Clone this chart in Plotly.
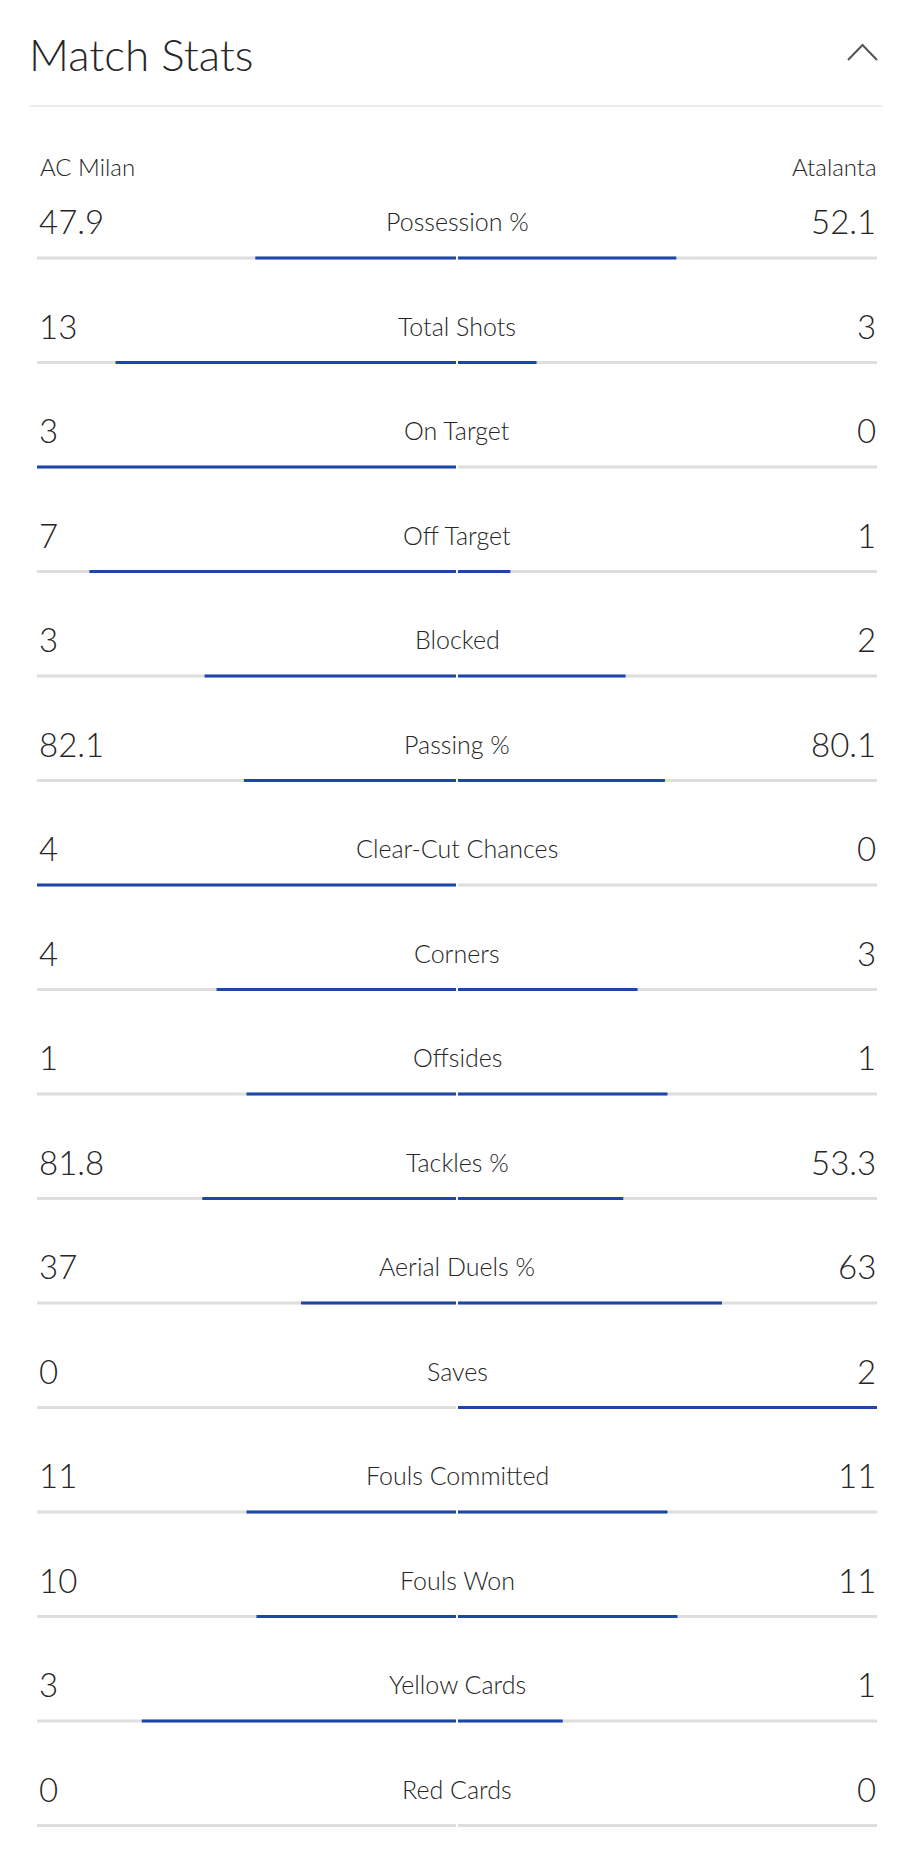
import plotly.graph_objects as go

# 比赛数据
stat_names = ["Possession %", "Total Shots", "On Target", "Off Target", "Blocked",
              "Passing %", "Clear-Cut Chances", "Corners", "Offsides", "Tackles %",
              "Aerial Duels %", "Saves", "Fouls Committed", "Fouls Won",
              "Yellow Cards", "Red Cards"]
home_team = "AC Milan"
away_team = "Atalanta"
home_vals = [47.9, 13, 3, 7, 3, 82.1, 4, 4, 1, 81.8, 37, 0, 11, 10, 3, 0]
away_vals = [52.1, 3, 0, 1, 2, 80.1, 0, 3, 1, 53.3, 63, 2, 11, 11, 1, 0]

W, H = 912, 1872
PAGE_OFF = 8                    # 页面 body 边距
BAR_L, BAR_R = 37, 877          # 条形左右像素（页面坐标）
ROW0, ROW_STEP = 258, 104.5     # 第一行条形y像素, 行距
FONT = "Lato, 'Open Sans', sans-serif"
BLUE = "#1e45a8"
GREY = "#dedede"
TEXT = "#262626"

half = (BAR_R - BAR_L) / 2
cx = (BAR_L + BAR_R) / 2


def px_x(p):
    return (p - cx) / half


def px_y(p):
    return (p - ROW0) / ROW_STEP


gap = 1 / half
bw = 3 / ROW_STEP
rows = list(range(len(stat_names)))

home_share = [h / (h + a) if (h + a) else 0 for h, a in zip(home_vals, away_vals)]
away_share = [a / (h + a) if (h + a) else 0 for h, a in zip(home_vals, away_vals)]

fig = go.Figure()

# 灰色底条
fig.add_trace(go.Bar(orientation="h", y=rows, x=[-(1 - gap)] * len(rows), base=-gap,
                     width=bw, marker=dict(color=GREY, line=dict(width=0)),
                     hoverinfo="skip", showlegend=False))
fig.add_trace(go.Bar(orientation="h", y=rows, x=[1 - gap] * len(rows), base=gap,
                     width=bw, marker=dict(color=GREY, line=dict(width=0)),
                     hoverinfo="skip", showlegend=False))
# 蓝色数据条
fig.add_trace(go.Bar(orientation="h", y=rows, x=[-s * (1 - gap) for s in home_share],
                     base=-gap, width=bw, marker=dict(color=BLUE, line=dict(width=0)),
                     hoverinfo="skip", showlegend=False))
fig.add_trace(go.Bar(orientation="h", y=rows, x=[s * (1 - gap) for s in away_share],
                     base=gap, width=bw, marker=dict(color=BLUE, line=dict(width=0)),
                     hoverinfo="skip", showlegend=False))

annotations = []
for i, name in enumerate(stat_names):
    yv = i + px_y(221)
    annotations.append(dict(x=px_x(BAR_L), y=yv, text=str(home_vals[i]), xanchor="left",
                            yanchor="middle", showarrow=False,
                            font=dict(family=FONT, size=33, color=TEXT, weight=300)))
    annotations.append(dict(x=px_x(BAR_R + 1), y=yv, text=str(away_vals[i]), xanchor="right",
                            yanchor="middle", showarrow=False,
                            font=dict(family=FONT, size=33, color=TEXT, weight=300)))
    annotations.append(dict(x=0, y=yv, text=name, xanchor="center", yanchor="middle",
                            showarrow=False,
                            font=dict(family=FONT, size=25, color=TEXT, weight=300)))

# 队名
annotations.append(dict(x=px_x(38), y=px_y(166), text=home_team, xanchor="left",
                        yanchor="middle", showarrow=False,
                        font=dict(family=FONT, size=24, color=TEXT, weight=300)))
annotations.append(dict(x=px_x(879), y=px_y(166), text=away_team, xanchor="right",
                        yanchor="middle", showarrow=False,
                        font=dict(family=FONT, size=24, color=TEXT, weight=300)))
# 标题
annotations.append(dict(x=px_x(27), y=px_y(54), text="Match Stats", xanchor="left",
                        yanchor="middle", showarrow=False,
                        font=dict(family=FONT, size=44, color=TEXT, weight=300)))

shapes = [
    # 分隔线
    dict(type="line", x0=px_x(30), x1=px_x(882), y0=px_y(106), y1=px_y(106),
         line=dict(color="#e6e6e6", width=1.5)),
    # 折叠图标
    dict(type="path",
         path=f"M {px_x(848)},{px_y(60)} L {px_x(862.5)},{px_y(45)} L {px_x(877)},{px_y(60)}",
         line=dict(color="#555555", width=2)),
]

fig.update_layout(
    width=W, height=H,
    margin=dict(l=0, r=0, t=0, b=0),
    paper_bgcolor="white", plot_bgcolor="white",
    barmode="overlay",
    xaxis=dict(range=[px_x(PAGE_OFF), px_x(PAGE_OFF + W)], visible=False, fixedrange=True),
    yaxis=dict(range=[px_y(PAGE_OFF + H), px_y(PAGE_OFF)], visible=False, fixedrange=True),
    annotations=annotations,
    shapes=shapes,
    showlegend=False,
)

fig.write_html("out.html", config={"displayModeBar": False})
